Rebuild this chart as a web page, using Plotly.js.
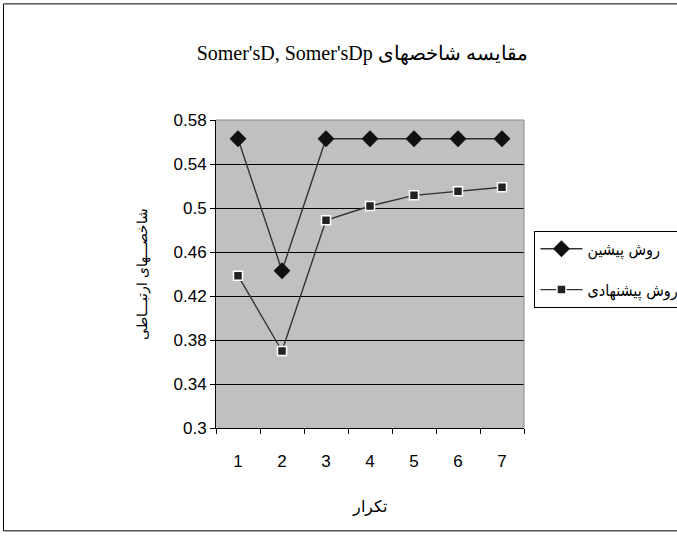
<!DOCTYPE html>
<html>
<head>
<meta charset="utf-8">
<script src="https://cdn.plot.ly/plotly-3.0.1.min.js"></script>
<style>html,body{margin:0;padding:0;background:#fff;}#chart{width:677px;height:536px;}</style>
</head>
<body>
<div id="chart"></div>
<script>
var categories = ["1", "2", "3", "4", "5", "6", "7"];
var seriesPrevious = [0.563, 0.443, 0.563, 0.563, 0.563, 0.563, 0.563];
var seriesProposed = [0.4385, 0.370, 0.4888, 0.5018, 0.5115, 0.5152, 0.5188];
var seriesNames = ["روش پیشین", "روش پیشنهادی"];
var yTicks = [0.3, 0.34, 0.38, 0.42, 0.46, 0.5, 0.54, 0.58];

var sans = "Liberation Sans, Arial, sans-serif";

var traces = [
  {
    x: categories, y: seriesPrevious, name: seriesNames[0], legendgroup: "a", type: "scatter", mode: "lines+markers",
    line: {color: "#333333", width: 1.4},
    marker: {symbol: "diamond", size: 13, color: "#111111", line: {width: 0}}
  },
  {
    x: categories, y: seriesProposed, name: seriesNames[1], legendgroup: "b", type: "scatter", mode: "lines+markers",
    line: {color: "#333333", width: 1.4},
    marker: {symbol: "square", size: 9, color: "#222222", line: {color: "#ffffff", width: 1.5}}
  }
];

var layout = {
  width: 677, height: 536,
  margin: {l: 216, r: 153, t: 120, b: 108, autoexpand: false},
  paper_bgcolor: "#ffffff",
  plot_bgcolor: "#c0c0c0",
  showlegend: true,
  font: {family: sans, color: "#000000"},
  title: {
    text: "Somer'sD, Somer'sDp مقایسه شاخصهای",
    font: {family: "Liberation Serif, Times New Roman, serif", size: 20, color: "#000"},
    xref: "container", x: 0.535, xanchor: "center",
    yref: "container", y: 0.901, yanchor: "middle"
  },
  xaxis: {
    type: "category",
    range: [-0.5, 6.5],
    tickson: "boundaries",
    ticks: "outside", ticklen: 5, tickcolor: "#000", tickwidth: 1,
    showline: true, linecolor: "#000", linewidth: 1,
    showgrid: false, zeroline: false,
    tickfont: {size: 17, family: sans},
    ticklabelstandoff: 18,
    title: {text: "تكرار", font: {size: 16, family: "Liberation Serif, Times New Roman, serif"}, standoff: 30}
  },
  yaxis: {
    range: [0.3, 0.58],
    tickvals: yTicks,
    ticks: "outside", ticklen: 5, tickcolor: "#000", tickwidth: 1,
    showline: true, linecolor: "#000", linewidth: 1,
    showgrid: true, gridcolor: "#000", gridwidth: 1,
    zeroline: false,
    tickfont: {size: 17, family: sans},
    title: {text: "شاخصـــهای ارتبـــاطی", font: {size: 14, family: "Liberation Serif, Times New Roman, serif"}, standoff: 22}
  },
  legend: {
    x: 1.034, xanchor: "left", y: 0.64, yanchor: "top",
    bgcolor: "#ffffff", bordercolor: "#000", borderwidth: 1,
    font: {size: 16, family: "DejaVu Sans Condensed, DejaVu Sans, sans-serif"},
    itemwidth: 42,
    tracegroupgap: 17
  },
  shapes: [
    {type: "line", xref: "paper", yref: "paper", x0: 1, x1: 1, y0: 0, y1: 1, line: {color: "#888", width: 1}},
    {type: "line", xref: "paper", yref: "paper", x0: 0, x1: 1, y0: 1, y1: 1, line: {color: "#888", width: 1}},
    {type: "rect", xref: "paper", yref: "paper", x0: -0.69, x1: 1.6, y0: -0.334, y1: 1.377, line: {color: "#000", width: 1}, fillcolor: "rgba(0,0,0,0)", layer: "below"}
  ]
};

Plotly.newPlot("chart", traces, layout, {staticPlot: true});
</script>
</body>
</html>
